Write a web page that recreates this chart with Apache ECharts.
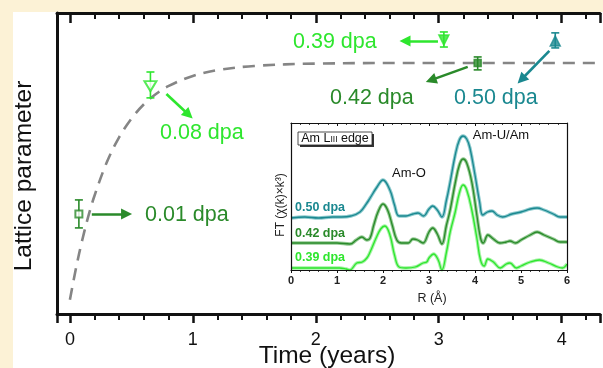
<!DOCTYPE html>
<html><head><meta charset="utf-8">
<script src="https://cdn.jsdelivr.net/npm/echarts@6/dist/echarts.min.js"></script>
<style>html,body{margin:0;padding:0;background:#fcf2d6}#c{width:603px;height:368px}</style>
</head><body><div id="c"></div>
<script>
// ---- main plot data ----
const xTickLabels = [0, 1, 2, 3, 4];
const curveTime  = [0, 0.05, 0.1, 0.15, 0.2, 0.3, 0.4, 0.5, 0.6, 0.7, 0.8, 1.0, 1.2, 1.5, 2.0, 3.0, 4.31];
const curveValue = [0.047, 0.153, 0.245, 0.325, 0.393, 0.504, 0.587, 0.649, 0.696, 0.731, 0.757, 0.791, 0.810, 0.824, 0.832, 0.834, 0.834];
const doseLabels = ['0.01 dpa', '0.08 dpa', '0.39 dpa', '0.42 dpa', '0.50 dpa'];
const pointTime  = [0.073, 0.655, 3.042, 3.317, 3.948];
const pointValue = [0.332, 0.757, 0.910, 0.834, 0.907];
const pointLow   = [0.286, 0.718, 0.887, 0.811, 0.884];
const pointHigh  = [0.379, 0.804, 0.937, 0.854, 0.934];

// ---- inset data (R in Å, FT magnitude, arbitrary units with offsets) ----
const insetTicks = [0, 1, 2, 3, 4, 5, 6];
const r050 = [0,0.3,0.6,0.9,1.1,1.3,1.5,1.65,1.72,1.87,2.0,2.15,2.25,2.35,2.5,2.65,2.76,2.88,3.0,3.08,3.18,3.28,3.38,3.46,3.57,3.66,3.74,3.82,3.89,4.0,4.1,4.17,4.27,4.37,4.48,4.6,4.8,5.0,5.2,5.35,5.5,5.7,5.85,6.0];
const ft050 = [52,53,52,53,53,54,58,67,72,83,90,80,65,54,54,56,57,54,61,64,60,53,70,88,115,130,134,131,122,95,68,55,58,59,55,53,56,58,61,62,60,56,53,53];
const r042 = [0,0.5,1.0,1.28,1.42,1.54,1.65,1.72,1.8,1.9,2.0,2.1,2.2,2.3,2.4,2.55,2.65,2.75,2.87,3.0,3.08,3.18,3.28,3.38,3.46,3.57,3.66,3.74,3.82,3.93,4.04,4.12,4.18,4.28,4.4,4.54,4.68,4.76,4.88,5.0,5.2,5.35,5.5,5.7,5.85,6.0];
const ft042 = [27,27,27,26,30,33,30,32,45,59,66,60,45,30,27,27,31,30,27,38,42,36,26,45,60,87,105,111,107,88,55,32,27,35,31,27,28,29,27,30,35,38,35,31,28,28];
const r039 = [0,0.5,0.9,1.05,1.2,1.28,1.43,1.55,1.65,1.72,1.85,1.95,2.04,2.15,2.25,2.35,2.5,2.7,2.87,2.95,3.0,3.1,3.2,3.28,3.38,3.46,3.57,3.66,3.74,3.82,3.93,4.04,4.12,4.2,4.28,4.4,4.55,4.68,4.76,4.9,5.0,5.2,5.4,5.6,5.8,5.9,6.0];
const ft039 = [2,2,2,2,1,0,7,8,12,18,32,41,44,35,15,3,2,3,7,8,12,16,10,0,18,38,58,77,85,80,60,32,10,4,11,8,2,6,7,2,4,8,10,7,3,2,6];
const insetLabels = ['0.50 dpa', '0.42 dpa', '0.39 dpa'];

// ---- styles ----
const DK = '#2a8a2a', LT = '#2ee62e', TL = '#1a8890';
const doseColors = [DK, LT, LT, DK, TL];
const doseSymbols = ['emptyRect', 'emptyTriangle', 'triangle', 'rect', 'triangle'];
const doseRot = [0, 180, 180, 0, 0];
const doseSize = [7, [12, 10], [10, 10], [7, 7], [10, 10]];
const FONT = 'Liberation Sans, Arial, sans-serif';

// annotation arrows (data units: from -> arrowhead centre)
const arrows = [
  [[0.178, 0.332], [0.461, 0.332]],
  [[0.785, 0.731], [0.966, 0.662]],
  [[2.994, 0.907], [2.726, 0.907]],
  [[3.236, 0.821], [2.937, 0.777]],
  [[3.900, 0.874], [3.673, 0.779]]
];

const chart = echarts.init(document.getElementById('c'), null, {renderer: 'canvas'});

function toPairs(xs, ys) { return xs.map((x, i) => [x, ys[i]]); }

const series = [];
series.push({
  type: 'line', xAxisIndex: 0, yAxisIndex: 0, data: toPairs(curveTime, curveValue),
  smooth: 0.35, showSymbol: false, silent: true, z: 2,
  lineStyle: {color: '#858585', width: 2.6, type: [12, 8]}
});
series.push({
  type: 'custom', xAxisIndex: 0, yAxisIndex: 0, z: 4,
  data: pointTime.map((t, i) => [t, pointLow[i], pointHigh[i], i]),
  encode: {x: 0, y: [1, 2]},
  renderItem: function (params, api) {
    const x = api.value(0), i = api.value(3);
    const p1 = api.coord([x, api.value(2)]), p2 = api.coord([x, api.value(1)]);
    const c = doseColors[i], w = 4;
    const st = {stroke: c, lineWidth: 1.6};
    return {type: 'group', children: [
      {type: 'line', shape: {x1: p1[0], y1: p1[1], x2: p2[0], y2: p2[1]}, style: st},
      {type: 'line', shape: {x1: p1[0] - w, y1: p1[1], x2: p1[0] + w, y2: p1[1]}, style: st},
      {type: 'line', shape: {x1: p2[0] - w, y1: p2[1], x2: p2[0] + w, y2: p2[1]}, style: st}
    ]};
  }
});
series.push({
  type: 'scatter', xAxisIndex: 0, yAxisIndex: 0, z: 5,
  data: pointTime.map((t, i) => ({
    value: [t, pointValue[i]], symbol: doseSymbols[i], symbolSize: doseSize[i], symbolRotate: doseRot[i],
    itemStyle: {color: doseColors[i], borderColor: doseColors[i], borderWidth: 1.5}
  }))
});
series.push({
  type: 'lines', coordinateSystem: 'cartesian2d', xAxisIndex: 0, yAxisIndex: 0, z: 5,
  symbol: ['none', 'triangle'], symbolSize: 11,
  data: arrows.map((a, i) => ({coords: a, lineStyle: {color: doseColors[i], width: 2.6, opacity: 1}})),
  lineStyle: {width: 2.6, opacity: 1}
});

const insetSets = [[r050, ft050, TL, '#7fc4c8'], [r042, ft042, DK, '#86c486'], [r039, ft039, LT, '#9af29a']];
insetSets.forEach(s => {
  series.push({type: 'line', xAxisIndex: 2, yAxisIndex: 1, data: toPairs(s[0], s[1]), smooth: 0.4,
    showSymbol: false, silent: true, z: 6, lineStyle: {color: s[3], width: 3.4, opacity: 0.9}});
  series.push({type: 'line', xAxisIndex: 2, yAxisIndex: 1, data: toPairs(s[0], s[1]), smooth: 0.4,
    showSymbol: false, silent: true, z: 7, lineStyle: {color: s[2], width: 1.3}});
});

const graphic = [
  {type: 'rect', shape: {x: 13, y: 12, width: 600, height: 360}, style: {fill: '#ffffff'}, z: -100, silent: true},
  {type: 'text', x: 24, y: 176, rotation: Math.PI / 2, style: {text: 'Lattice parameter', fontSize: 24.5, fontFamily: FONT, fill: '#111', align: 'center', verticalAlign: 'middle'}},
  {type: 'text', x: 327, y: 356, style: {text: 'Time (years)', fontSize: 24.5, fontFamily: FONT, fill: '#111', align: 'center', verticalAlign: 'middle'}},
  {type: 'text', x: 145, y: 215, style: {text: doseLabels[0], fontSize: 21.5, fontFamily: FONT, fill: DK, align: 'left', verticalAlign: 'middle'}},
  {type: 'text', x: 160, y: 133, style: {text: doseLabels[1], fontSize: 21.5, fontFamily: FONT, fill: LT, align: 'left', verticalAlign: 'middle'}},
  {type: 'text', x: 293, y: 42, style: {text: doseLabels[2], fontSize: 21.5, fontFamily: FONT, fill: LT, align: 'left', verticalAlign: 'middle'}},
  {type: 'text', x: 330, y: 98, style: {text: doseLabels[3], fontSize: 21.5, fontFamily: FONT, fill: DK, align: 'left', verticalAlign: 'middle'}},
  {type: 'text', x: 454, y: 98, style: {text: doseLabels[4], fontSize: 21.5, fontFamily: FONT, fill: TL, align: 'left', verticalAlign: 'middle'}},
  // inset texts
  {type: 'rect', shape: {x: 300, y: 134, width: 74, height: 13}, style: {fill: '#333'}, z: 20},
  {type: 'rect', shape: {x: 298, y: 132, width: 74, height: 13}, style: {fill: '#fff', stroke: '#222', lineWidth: 0.8}, z: 21},
  {type: 'text', x: 335, y: 138.5, z: 22, style: {text: 'Am L{s|III} edge', fontSize: 12.5, fontFamily: FONT, fill: '#111', align: 'center', verticalAlign: 'middle', rich: {s: {fontSize: 8.5, fontFamily: FONT, fill: '#111', padding: [3, 0, 0, 0]}}}},
  {type: 'text', x: 409, y: 173, z: 22, style: {text: 'Am-O', fontSize: 13, fontFamily: FONT, fill: '#111', align: 'center', verticalAlign: 'middle'}},
  {type: 'text', x: 501, y: 135, z: 22, style: {text: 'Am-U/Am', fontSize: 13, fontFamily: FONT, fill: '#111', align: 'center', verticalAlign: 'middle'}},
  {type: 'text', x: 295, y: 208, z: 22, style: {text: insetLabels[0], fontSize: 12.5, fontWeight: 'bold', fontFamily: FONT, fill: TL, align: 'left', verticalAlign: 'middle'}},
  {type: 'text', x: 295, y: 234, z: 22, style: {text: insetLabels[1], fontSize: 12.5, fontWeight: 'bold', fontFamily: FONT, fill: DK, align: 'left', verticalAlign: 'middle'}},
  {type: 'text', x: 295, y: 258, z: 22, style: {text: insetLabels[2], fontSize: 12.5, fontWeight: 'bold', fontFamily: FONT, fill: LT, align: 'left', verticalAlign: 'middle'}},
  {type: 'text', x: 281, y: 205, rotation: Math.PI / 2, z: 22, style: {text: 'FT (\u03c7(k)\u00d7k\u00b3)', fontSize: 12, fontFamily: FONT, fill: '#222', align: 'center', verticalAlign: 'middle'}},
  {type: 'text', x: 432, y: 299, z: 22, style: {text: 'R (\u00c5)', fontSize: 12.5, fontFamily: FONT, fill: '#222', align: 'center', verticalAlign: 'middle'}}
];

const mainAxisBase = {
  type: 'value', gridIndex: 0, min: -0.105, max: 4.312, minInterval: 1, maxInterval: 1,
  splitLine: {show: false},
  axisLine: {onZero: false, lineStyle: {color: '#111', width: 3}}
};

const option = {
  backgroundColor: '#fcf2d6',
  animation: false,
  grid: [
    {left: 57, top: 13, right: 0, height: 301, containLabel: false},
    {left: 291, top: 123, width: 276, height: 147, containLabel: false, show: true, backgroundColor: '#fff', borderWidth: 0, z: 5}
  ],
  xAxis: [
    Object.assign({}, mainAxisBase, {
      position: 'bottom',
      axisTick: {show: true, inside: false, length: 9, lineStyle: {color: '#111', width: 2.5}},
      minorTick: {show: true, splitNumber: 5, length: 6, lineStyle: {color: '#111', width: 2}},
      axisLabel: {fontSize: 18, fontFamily: FONT, color: '#111', margin: 17,
        formatter: v => (xTickLabels.indexOf(v) >= 0 ? String(v) : '')}
    }),
    Object.assign({}, mainAxisBase, {
      position: 'top',
      axisTick: {show: true, inside: true, length: 10, lineStyle: {color: '#111', width: 2.5}},
      minorTick: {show: true, splitNumber: 5, length: 6, lineStyle: {color: '#111', width: 2}},
      axisLabel: {show: false}
    }),
    {
      type: 'value', gridIndex: 1, min: 0, max: 6, interval: 1, position: 'bottom', z: 8,
      splitLine: {show: false},
      axisLine: {onZero: false, lineStyle: {color: '#111', width: 1.2}},
      axisTick: {show: true, inside: false, length: 3, lineStyle: {color: '#111', width: 1}},
      minorTick: {show: true, splitNumber: 5, length: 2, lineStyle: {color: '#111', width: 0.8}},
      axisLabel: {fontSize: 11, fontWeight: 'bold', fontFamily: FONT, color: '#222', margin: 5,
        formatter: v => (insetTicks.indexOf(v) >= 0 ? String(v) : '')}
    },
    {
      type: 'value', gridIndex: 1, min: 0, max: 6, interval: 1, position: 'top', z: 8,
      splitLine: {show: false},
      axisLine: {onZero: false, lineStyle: {color: '#111', width: 1.2}},
      axisTick: {show: true, inside: true, length: 3, lineStyle: {color: '#111', width: 1}},
      minorTick: {show: true, splitNumber: 5, length: 2, lineStyle: {color: '#111', width: 0.8}},
      axisLabel: {show: false}
    }
  ],
  yAxis: [
    {type: 'value', gridIndex: 0, min: 0, max: 1, position: 'left',
      axisLine: {show: true, onZero: false, lineStyle: {color: '#111', width: 3}},
      axisTick: {show: false}, axisLabel: {show: false}, splitLine: {show: false}},
    {type: 'value', gridIndex: 1, min: 0, max: 147, position: 'left', z: 8,
      axisLine: {show: true, onZero: false, lineStyle: {color: '#111', width: 1.2}},
      axisTick: {show: false}, axisLabel: {show: false}, splitLine: {show: false}},
    {type: 'value', gridIndex: 1, min: 0, max: 147, position: 'right', z: 8,
      axisLine: {show: true, onZero: false, lineStyle: {color: '#111', width: 1.2}},
      axisTick: {show: false}, axisLabel: {show: false}, splitLine: {show: false}}
  ],
  series: series,
  graphic: graphic
};
chart.setOption(option);
</script>
</body></html>
